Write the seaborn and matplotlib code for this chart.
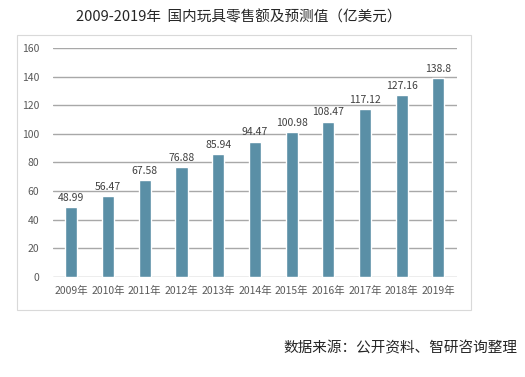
import matplotlib
matplotlib.use('Agg')
import matplotlib.pyplot as plt
import seaborn as sns
import pandas as pd
from matplotlib.patches import Rectangle

# 数据
years = ['2009年', '2010年', '2011年', '2012年', '2013年', '2014年',
         '2015年', '2016年', '2017年', '2018年', '2019年']
values = [48.99, 56.47, 67.58, 76.88, 85.94, 94.47, 100.98, 108.47, 117.12, 127.16, 138.8]
value_labels = ['48.99', '56.47', '67.58', '76.88', '85.94', '94.47',
                '100.98', '108.47', '117.12', '127.16', '138.8']

sns.set_theme(style='white')
plt.rcParams['font.family'] = ['Noto Sans CJK SC', 'DejaVu Sans']

df = pd.DataFrame({'year': years, 'value': values})

fig = plt.figure(figsize=(5.25, 3.77), dpi=100)
fig.patch.set_facecolor('white')

# 外框
fig.patches.append(Rectangle((0.032, 0.178), 0.865, 0.729, transform=fig.transFigure,
                             fill=False, edgecolor='#d9d9d9', linewidth=0.8))

ax = fig.add_axes([0.101, 0.265, 0.769, 0.608])
sns.barplot(data=df, x='year', y='value', color='#5a8fa6', width=0.33,
            saturation=1, ax=ax, zorder=3)

ax.set_ylim(0, 160)
ax.set_xlim(-0.5, 10.5)
ax.set_yticks(range(0, 161, 20))
ax.yaxis.grid(True, color='#a8a8a8', linewidth=1.0, zorder=0)
ax.set_axisbelow(True)
for s in ax.spines.values():
    s.set_visible(False)
ax.set_xlabel('')
ax.set_ylabel('')
ax.tick_params(axis='both', length=0, labelsize=7.5, colors='#595959')
ax.tick_params(axis='y', pad=10)
ax.tick_params(axis='x', pad=6)

for i, (v, lab) in enumerate(zip(values, value_labels)):
    ax.text(i, v + 3, lab, ha='center', va='bottom', fontsize=7.5, color='#404040')

fig.text(0.455, 0.955, '2009-2019年  国内玩具零售额及预测值（亿美元）', ha='center', va='center',
         fontsize=10.5, color='#262626')
fig.text(0.986, 0.075, '数据来源：公开资料、智研咨询整理', ha='right', va='center',
         fontsize=10.5, color='#262626')

fig.savefig('out.png', dpi=100, facecolor='white')
